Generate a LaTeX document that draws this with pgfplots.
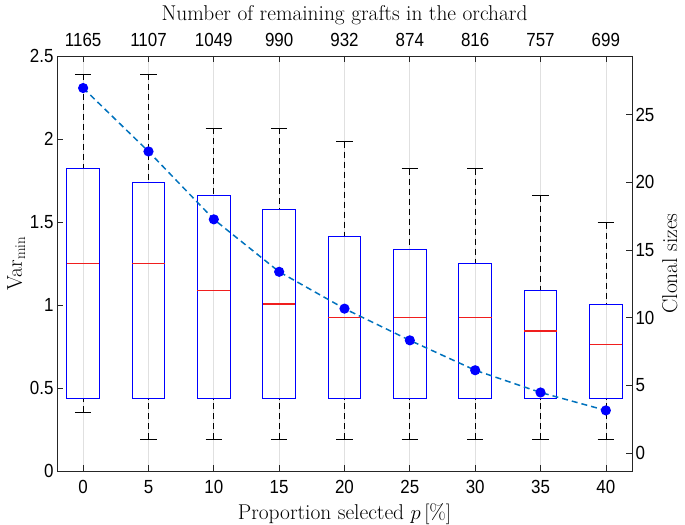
\documentclass[border=0pt]{standalone}
\usepackage{fontspec}
\usepackage{pgfplots}
\pgfplotsset{compat=1.18}
\usepgfplotslibrary{statistics}
\newfontfamily\ticksf{Liberation Sans}
\definecolor{axisgray}{gray}{0.15}
\definecolor{mblue}{RGB}{0,114,189}
\definecolor{gridgray}{gray}{0.88}
\definecolor{medred}{RGB}{240,30,30}
\begin{document}
\begin{tikzpicture}
\useasboundingbox (0,0) rectangle (685bp,525bp);
\pgfplotsset{
  base/.style={
    at={(57bp,54bp)}, anchor=south west,
    width=575bp, height=415bp, scale only axis,
    xmin=-2, xmax=42,
    tick align=inside, major tick length=6bp,
    axis line style={axisgray, line width=0.7bp},
    every tick/.style={axisgray, line width=0.7bp},
    tick label style={font=\fontsize{17}{20}\ticksf, text=black, yscale=1.12},
    /pgf/number format/assume math mode=true,
    label style={font=\fontsize{21.5}{25}\selectfont, text=black},
  },
  bx/.style={blue, line width=0.8bp,
    boxplot/draw direction=y,
    boxplot/box extend=2.5, boxplot/whisker extend=1.25,
    boxplot/every median/.style={draw=medred, line width=1.4bp},
    boxplot/every box/.style={draw=blue, line width=0.8bp},
    boxplot/draw/lower whisker/.code={
      \draw[black, dash pattern=on 6bp off 4bp, line width=0.7bp]
        (boxplot box cs:\pgfplotsboxplotvalue{lower whisker},0.5) --
        (boxplot box cs:\pgfplotsboxplotvalue{lower quartile},0.5);
      \draw[black, solid, line width=0.7bp]
        (boxplot whisker cs:\pgfplotsboxplotvalue{lower whisker},0) --
        (boxplot whisker cs:\pgfplotsboxplotvalue{lower whisker},1);
    },
    boxplot/draw/upper whisker/.code={
      \draw[black, dash pattern=on 6bp off 4bp, line width=0.7bp]
        (boxplot box cs:\pgfplotsboxplotvalue{upper whisker},0.5) --
        (boxplot box cs:\pgfplotsboxplotvalue{upper quartile},0.5);
      \draw[black, solid, line width=0.7bp]
        (boxplot whisker cs:\pgfplotsboxplotvalue{upper whisker},0) --
        (boxplot whisker cs:\pgfplotsboxplotvalue{upper whisker},1);
    },
  },
}
% left axis with grid
\begin{axis}[base,
  ymin=0, ymax=2.5, ytick={0,0.5,...,2.5},
  xtick={0,5,...,40}, xtick pos=bottom, ytick pos=left,
  xmajorgrids, grid style={gridgray, line width=0.7bp},
  xticklabel style={yshift=-5bp},
  xlabel style={yshift=-2bp},
  ylabel style={yshift=-2bp},
  xlabel={Proportion selected $p\,[\%]$},
  ylabel={Var$_{\min}$},
]
\end{axis}
% right axis with boxplots
\begin{axis}[base,
  ymin=-1.33, ymax=29.32, ytick={0,5,...,25},
  hide x axis, ytick pos=right, yticklabel pos=right,
  ylabel style={yshift=-1bp},
  ylabel={Clonal sizes},
]
\addplot[bx, boxplot prepared={draw position=0, lower whisker=3, lower quartile=4, median=14, upper quartile=21, upper whisker=28}] coordinates {};
\addplot[bx, boxplot prepared={draw position=5, lower whisker=1, lower quartile=4, median=14, upper quartile=20, upper whisker=28}] coordinates {};
\addplot[bx, boxplot prepared={draw position=10, lower whisker=1, lower quartile=4, median=12, upper quartile=19, upper whisker=24}] coordinates {};
\addplot[bx, boxplot prepared={draw position=15, lower whisker=1, lower quartile=4, median=11, upper quartile=18, upper whisker=24}] coordinates {};
\addplot[bx, boxplot prepared={draw position=20, lower whisker=1, lower quartile=4, median=10, upper quartile=16, upper whisker=23}] coordinates {};
\addplot[bx, boxplot prepared={draw position=25, lower whisker=1, lower quartile=4, median=10, upper quartile=15, upper whisker=21}] coordinates {};
\addplot[bx, boxplot prepared={draw position=30, lower whisker=1, lower quartile=4, median=10, upper quartile=14, upper whisker=21}] coordinates {};
\addplot[bx, boxplot prepared={draw position=35, lower whisker=1, lower quartile=4, median=9, upper quartile=12, upper whisker=19}] coordinates {};
\addplot[bx, boxplot prepared={draw position=40, lower whisker=1, lower quartile=4, median=8, upper quartile=11, upper whisker=17}] coordinates {};
\end{axis}
% dots and top axis
\begin{axis}[base,
  ymin=0, ymax=2.5, hide y axis,
  xtick={0,5,...,40}, xtick pos=top, xticklabel pos=top,
  xticklabels={1165,1107,1049,990,932,874,816,757,699},
  xticklabel style={yshift=5bp},
  xlabel style={yshift=1bp},
  xlabel={Number of remaining grafts in the orchard},
]
\addplot[mblue, line width=1.5bp, dash pattern=on 6bp off 4bp,
  mark=*, mark size=4.3bp, mark options={solid, fill=blue, draw=blue}]
  coordinates {(0,2.307) (5,1.925) (10,1.516) (15,1.200) (20,0.978) (25,0.787) (30,0.607) (35,0.473) (40,0.365)};
\end{axis}
\end{tikzpicture}
\end{document}
